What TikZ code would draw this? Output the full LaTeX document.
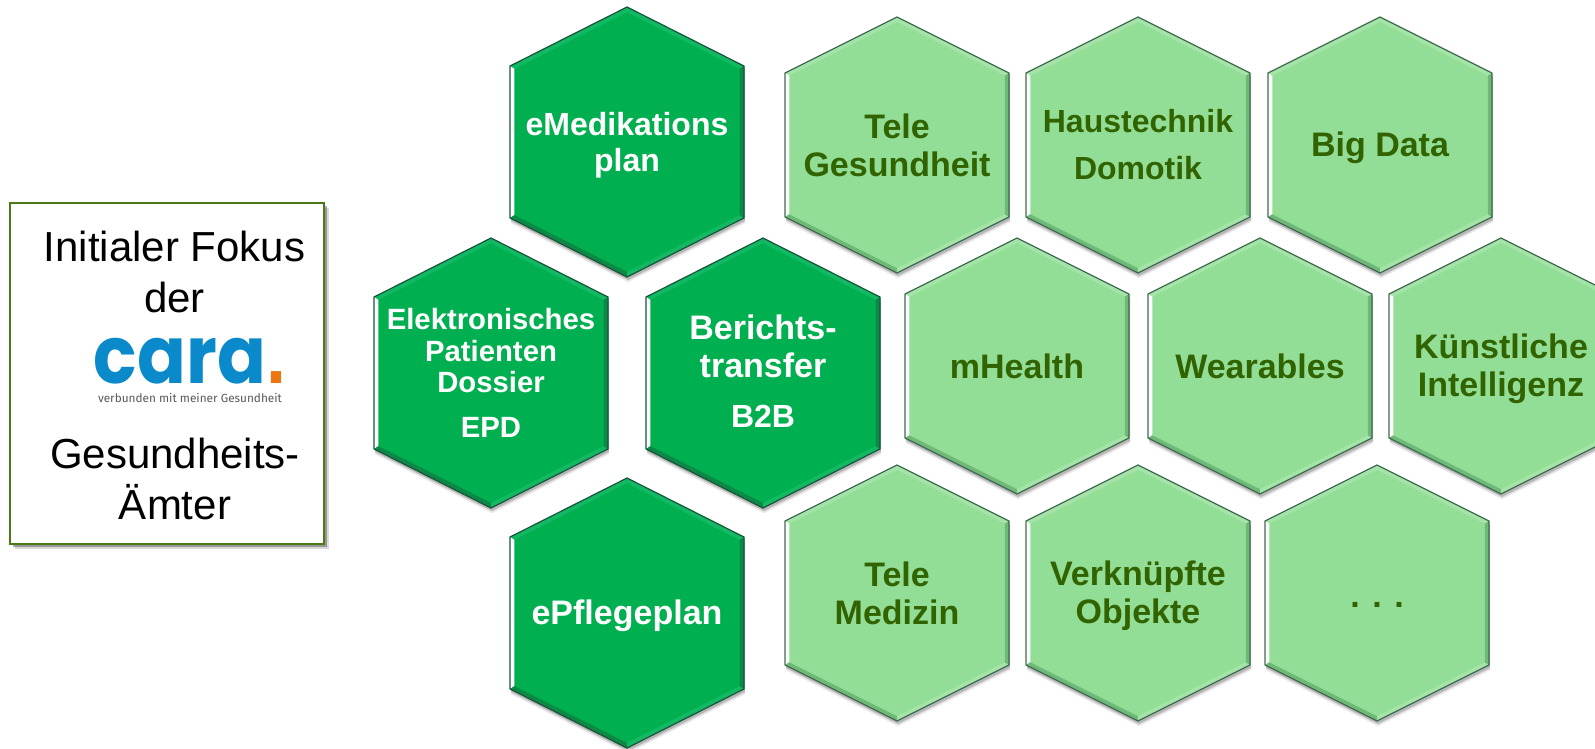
\documentclass[tikz,border=0pt]{standalone}
\usepackage{fontspec}
\setmainfont{Liberation Sans}
\newfontfamily\carafont{Poppins}
\newfontfamily\tagfont{Fira Sans}
\usetikzlibrary{shadows,calc}

\definecolor{darkgreen}{HTML}{00AF50}
\definecolor{darkup}{HTML}{12B862}
\definecolor{darkdown}{HTML}{0C8A45}
\definecolor{darkrim}{HTML}{17553A}
\definecolor{lightgreen}{HTML}{92DE96}
\definecolor{lightup}{HTML}{A4E4A8}
\definecolor{lightdown}{HTML}{6FB878}
\definecolor{lightrim}{HTML}{3F6B4F}
\definecolor{lighttxt}{HTML}{316300}
\definecolor{boxrim}{HTML}{4A7A17}
\definecolor{carablue}{HTML}{0A8ACB}
\definecolor{caraorange}{HTML}{EE7610}

\tikzset{
    hex/.style={
        drop shadow={shadow xshift=1pt,shadow yshift=-5pt,opacity=.1,fill=black},
        drop shadow={shadow xshift=1pt,shadow yshift=-3pt,opacity=.2,fill=black}},
    darkhex/.style={hex,fill=darkgreen},
    lighthex/.style={hex,fill=lightgreen},
    darktext/.style={align=center,text=white,font=\bfseries\fontsize{32}{36}\selectfont},
    lighttext/.style={align=center,text=lighttxt,font=\bfseries\fontsize{34}{38}\selectfont},
    boxtext/.style={align=center,text=black,font=\fontsize{42}{51}\selectfont}
}

% corners run: upper right, top, upper left, lower left, bottom, lower right
\newcommand{\hexcorners}[4]{
    \coordinate (#1-1) at ($(#1)+(#2,-#4)$);
    \coordinate (#1-2) at ($(#1)+(0,-#3)$);
    \coordinate (#1-3) at ($(#1)+(-#2,-#4)$);
    \coordinate (#1-4) at ($(#1)+(-#2,#4)$);
    \coordinate (#1-5) at ($(#1)+(0,#3)$);
    \coordinate (#1-6) at ($(#1)+(#2,#4)$);
}
\newcommand{\hexbevel}[5]{
    \fill[#2] (#1-1) -- (#1-2) -- (#1-3) -- (#1-4) -- (#1-5) -- (#1-6) -- cycle;
    \foreach \a/\b/\col in {1/2/#3,2/3/#3,3/4/white,4/5/#4,5/6/#3,6/1/#4}
        \fill[\col] (#1-\a) -- (#1-\b)
            -- ($(#1)!0.962!(#1-\b)$)
            -- ($(#1)!0.962!(#1-\a)$) -- cycle;
    \draw[#5,line width=1.2pt,line join=round] (#1-1) -- (#1-2) -- (#1-3)
        -- (#1-4) -- (#1-5) -- (#1-6) -- cycle;
}

\begin{document}
\begin{tikzpicture}[x=1pt,y=-1pt]
    \useasboundingbox (0,0) rectangle (1595,748);
    \clip (0,0) rectangle (1595,748);

    % left box
    \node[draw=boxrim,line width=1.5pt,fill=white,minimum width=314pt,minimum height=341pt,inner sep=0pt,
        drop shadow={shadow xshift=5pt,shadow yshift=-5pt,opacity=.15,fill=black},
        drop shadow={shadow xshift=3pt,shadow yshift=-3pt,opacity=.3,fill=black}]
        (fokus) at (167,373.5) {};
    \node[boxtext] (fokustop) at (174.5,272) {Initialer Fokus\\der};
    \node[anchor=base,inner sep=0pt,xscale=.9,text=carablue,font=\carafont\bfseries\fontsize{80}{80}\selectfont]
        (caralogo) at (190,383) {cara\textcolor{caraorange}{\rmfamily.}};
    \node[anchor=base,inner sep=0pt,text=black!65,font=\tagfont\fontsize{11.8}{14}\selectfont]
        (caratag) at (190,402) {verbunden mit meiner Gesundheit};
    \node[boxtext] (fokusbottom) at (175,479) {Gesundheits-\\Ämter};

    % dark hexagons
    \foreach \name/\cx/\cy in {emed/627/142,epd/491/373,bericht/763/373,epflege/627/613}{
        \coordinate (\name) at (\cx,\cy);
        \hexcorners{\name}{117}{135}{76}
        \hexbevel{\name}{darkhex}{darkup}{darkdown}{darkrim}
    }

    % light hexagons
    \foreach \name/\cx/\cy in {telegesund/897/145,haus/1138/145,bigdata/1380/145,
        mhealth/1017/366,wearables/1260/366,ki/1501/366,
        telemed/897/593,objekte/1138/593,rest/1377/593}{
        \coordinate (\name) at (\cx,\cy);
        \hexcorners{\name}{112}{128}{72}
        \hexbevel{\name}{lighthex}{lightup}{lightdown}{lightrim}
    }

    % labels
    \node[darktext,yshift=-3pt] (emedtext) at (emed) {eMedikations\\plan};
    \node[darktext,font=\bfseries\fontsize{29.3}{31.5}\selectfont] (epdtext) at (epd)
        {Elektronisches\\Patienten\\Dossier\\[13pt]EPD};
    \node[darktext,yshift=1.5pt,font=\bfseries\fontsize{34}{38}\selectfont] (berichttext) at (bericht)
        {Berichts-\\transfer\\[12pt]{\fontsize{32}{36}\selectfont B2B}};
    \node[darktext,yshift=-3pt,font=\bfseries\fontsize{34}{38}\selectfont] (epflegetext) at (epflege) {ePflegeplan};
    \node[lighttext] (telegesundtext) at (telegesund) {Tele\\Gesundheit};
    \node[lighttext,font=\bfseries\fontsize{32}{36}\selectfont] (haustext) at (haus) {Haustechnik\\[11pt]Domotik};
    \node[lighttext,yshift=-3pt] (bigdatatext) at (bigdata) {Big Data};
    \node[lighttext] (mhealthtext) at (mhealth) {mHealth};
    \node[lighttext] (wearablestext) at (wearables) {Wearables};
    \node[lighttext,yshift=-3pt] (kitext) at (ki) {Künstliche\\Intelligenz};
    \node[lighttext] (telemedtext) at (telemed) {Tele\\Medizin};
    \node[lighttext,yshift=-3pt] (objektetext) at (objekte) {Verknüpfte\\Objekte};
    \node[lighttext,yshift=-12pt] (resttext) at (rest) {. . .};
\end{tikzpicture}
\end{document}
